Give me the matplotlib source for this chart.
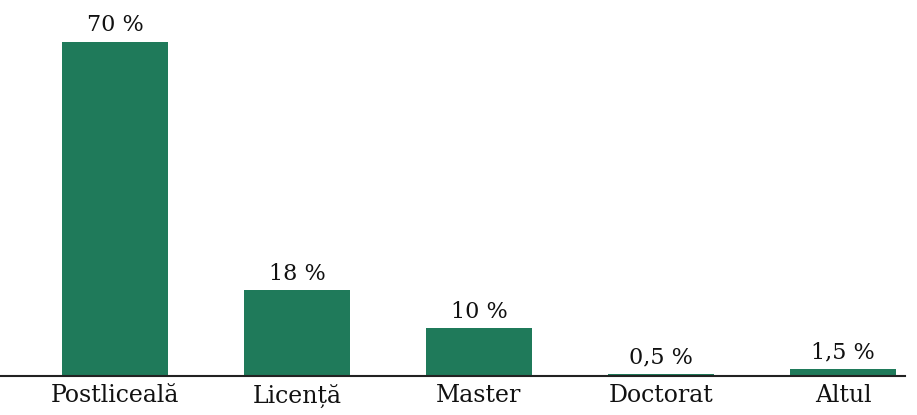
import matplotlib.pyplot as plt

categories = ['Postliceală', 'Licență', 'Master', 'Doctorat', 'Altul']
values = [70, 18, 10, 0.5, 1.5]
labels = ['70 %', '18 %', '10 %', '0,5 %', '1,5 %']


def plot_levels():
	fig = plt.figure(figsize=(9.17, 4.15), dpi=100)
	ax = fig.add_axes([0.0, 0.094, 905 / 917, 0.906])

	color = '#1f7a5a'
	positions = list(range(len(categories)))
	bars = ax.bar(positions, values, width=0.58, color=color)

	# value labels above each bar
	for bar, text in zip(bars, labels):
		ax.annotate(text, (bar.get_x() + bar.get_width() / 2, bar.get_height()),
			xytext=(0, 4), textcoords='offset points', ha='center', va='bottom',
			fontsize=16, family='DejaVu Serif', color='#111111')

	ax.set_xlim(-0.632, 4.341)
	ax.set_ylim(0, 78.8)
	ax.set_xticks(positions)
	ax.set_xticklabels(categories, family='DejaVu Serif', fontsize=17, color='#111111')
	ax.tick_params(axis='x', length=0, pad=6)
	ax.set_yticks([])

	for side in ['top', 'right', 'left']:
		ax.spines[side].set_visible(False)
	ax.spines['bottom'].set_linewidth(1.5)
	ax.spines['bottom'].set_color('#222222')

	fig.savefig('out.png', dpi=100)


if __name__ == "__main__":
	plot_levels()
